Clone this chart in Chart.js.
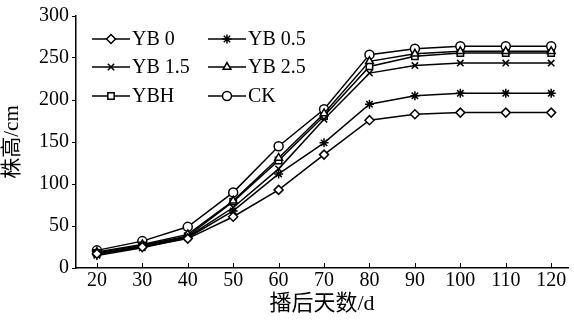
<!DOCTYPE html>
<html>
<head>
<meta charset="utf-8">
<script src="https://cdn.jsdelivr.net/npm/chart.js@4/dist/chart.umd.min.js"></script>
<style>
  html, body { margin: 0; padding: 0; background: #fff; }
  #wrap { width: 574px; height: 320px; }
</style>
</head>
<body>
<div id="wrap"><canvas id="growth-chart" width="574" height="320"></canvas></div>
<script>
const days = [20, 30, 40, 50, 60, 70, 80, 90, 100, 110, 120];
const yTicks = [0, 50, 100, 150, 200, 250, 300];

const yb0 = [17, 25, 35, 61, 93, 135, 176, 183, 185, 185, 185];
const yb05 = [15, 24, 36, 68, 112, 149, 195, 205, 208, 208, 208];
const yb15 = [16, 26, 37, 72, 118, 177, 232, 241, 244, 244, 244];
const yb25 = [19, 28, 40, 80, 131, 184, 246, 255, 258, 258, 258];
const ybh = [18, 27, 38, 79, 128, 181, 240, 252, 256, 256, 256];
const ck = [21, 32, 49, 90, 145, 189, 254, 261, 264, 264, 264];

const serif = "'Liberation Serif', 'Noto Sans CJK SC', serif";

const makeSet = (label, data, pointStyle) => ({
  label,
  data: data.map((v, i) => ({ x: days[i], y: v })),
  borderColor: "#000",
  borderWidth: 1.5,
  backgroundColor: "#fff",
  pointStyle,
  pointRadius: 4.5,
  pointBorderWidth: 1.5,
  pointBorderColor: "#000",
  pointBackgroundColor: "#fff",
  tension: 0,
});

// legend in two columns inside the plot, line + marker
const legendBox = {
  id: "legendBox",
  afterDraw(chart) {
    const { ctx } = chart;
    const cols = [92, 208];
    const rows = [39, 67, 96];
    chart.data.datasets.forEach((ds, i) => {
      const x = cols[i % 2];
      const y = rows[Math.floor(i / 2)];
      ctx.save();
      ctx.strokeStyle = "#000";
      ctx.lineWidth = 1.5;
      ctx.beginPath();
      ctx.moveTo(x, y);
      ctx.lineTo(x + 38, y);
      ctx.stroke();
      ctx.fillStyle = "#fff";
      Chart.helpers.drawPoint(ctx, {
        pointStyle: ds.pointStyle,
        radius: 4.5,
        borderWidth: 1.5,
        rotation: 0,
      }, x + 19, y);
      ctx.fillStyle = "#000";
      ctx.font = "20px " + serif;
      ctx.textBaseline = "middle";
      ctx.fillText(ds.label, x + 40, y + 1);
      ctx.restore();
    });
  },
};

// x ticks point inward
const innerTicks = {
  id: "innerTicks",
  afterDraw(chart) {
    const { ctx } = chart;
    const xs = chart.scales.x;
    const bottom = chart.chartArea.bottom;
    ctx.save();
    ctx.strokeStyle = "#000";
    ctx.lineWidth = 1;
    days.forEach((d) => {
      const px = Math.round(xs.getPixelForValue(d)) + 0.5;
      ctx.beginPath();
      ctx.moveTo(px, bottom);
      ctx.lineTo(px, bottom - 5);
      ctx.stroke();
    });
    ctx.restore();
  },
};

new Chart(document.querySelector("#growth-chart"), {
  type: "line",
  data: {
    datasets: [
      makeSet("YB 0", yb0, "rectRot"),
      makeSet("YB 0.5", yb05, "star"),
      makeSet("YB 1.5", yb15, "crossRot"),
      makeSet("YB 2.5", yb25, "triangle"),
      makeSet("YBH", ybh, "rect"),
      makeSet("CK", ck, "circle"),
    ],
  },
  options: {
    responsive: false,
    animation: false,
    layout: { padding: { top: 16, right: 4, left: 0, bottom: 0 } },
    plugins: {
      legend: { display: false },
      tooltip: { enabled: false },
    },
    scales: {
      x: {
        type: "linear",
        min: 15.4,
        max: 123.7,
        afterBuildTicks: (scale) => {
          scale.ticks = days.map((v) => ({ value: v }));
        },
        afterFit: (scale) => { scale.height = 52; },
        grid: { display: true, drawOnChartArea: false, drawTicks: false, color: "#000" },
        border: { display: true, color: "#000", width: 1.5 },
        ticks: {
          color: "#000",
          padding: 1,
          maxRotation: 0,
          font: { family: serif, size: 20 },
        },
        title: {
          display: true,
          text: "播后天数/d",
          color: "#000",
          padding: { top: 0, bottom: 3 },
          font: { family: serif, size: 22 },
        },
      },
      y: {
        min: 0,
        max: 300,
        afterBuildTicks: (scale) => {
          scale.ticks = yTicks.map((v) => ({ value: v }));
        },
        afterFit: (scale) => { scale.width = 76; },
        grid: { display: true, drawOnChartArea: false, tickLength: 4, color: "#000" },
        border: { display: true, color: "#000", width: 1.5 },
        ticks: {
          color: "#000",
          padding: 3,
          font: { family: serif, size: 20 },
        },
        title: {
          display: true,
          text: "株高/cm",
          color: "#000",
          padding: { top: 0, bottom: 2 },
          font: { family: serif, size: 21 },
        },
      },
    },
  },
  plugins: [legendBox, innerTicks],
});
</script>
</body>
</html>
